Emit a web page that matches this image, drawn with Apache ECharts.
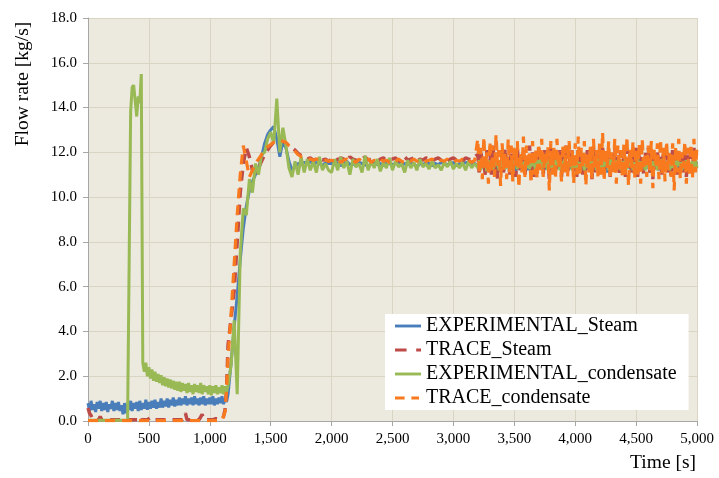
<!DOCTYPE html>
<html>
<head>
<meta charset="utf-8">
<script src="https://cdn.jsdelivr.net/npm/echarts@6/dist/echarts.min.js"></script>
<style>
html,body{margin:0;padding:0;background:#fff;}
#chart{width:719px;height:478px;}
</style>
</head>
<body>
<div id="chart"></div>
<script>
// sampling grid (s): 0–1137.5 every 12.5, 1150–3175 every 25, 3200–5000 every 12.5
const timeSegments = [[0, 1137.5, 12.5], [1150, 3175, 25], [3200, 5000, 12.5]];
const times = [];
timeSegments.forEach(([a, b, s]) => { for (let t = a; t <= b + 1e-9; t += s) times.push(t); });

const seriesNames = ['EXPERIMENTAL_Steam', 'TRACE_Steam', 'EXPERIMENTAL_condensate', 'TRACE_condensate'];

const expSteam = [
  0.8,0.45,0.9,0.5,0.75,0.4,0.85,0.55,0.9,0.45,0.8,0.5,0.85,0.4,0.75,0.55,0.9,0.45,0.8,0.5,
  0.85,0.45,0.7,0.3,0.8,0.35,0.75,0.5,0.9,0.45,0.8,0.55,0.85,0.45,0.9,0.5,0.8,0.55,0.95,0.5,
  0.85,0.55,0.9,0.6,0.95,0.55,0.85,0.6,1.0,0.6,0.9,0.65,1.0,0.6,0.95,0.7,1.05,0.65,0.95,0.7,
  1.05,0.7,1.0,0.75,1.1,0.7,1.0,0.75,1.05,0.7,1.1,0.75,1.0,0.7,1.05,0.75,1.1,0.7,1.0,0.75,
  1.05,0.75,1.1,0.7,1.0,0.75,1.05,0.8,1.1,0.75,1.0,0.85,
  1.2,2.6,4.2,5.6,7.2,8.6,9.6,10.3,10.7,11.0,11.3,11.8,12.4,12.8,
  13.0,13.15,12.6,11.8,12.5,12.2,11.6,11.2,11.35,11.5,11.45,11.55,11.5,11.6,11.45,11.55,11.5,11.4,11.55,11.5,
  11.5,11.45,11.55,11.4,11.5,11.6,11.45,11.5,11.4,11.55,11.5,11.45,11.35,11.5,11.55,11.45,11.5,11.4,11.55,11.5,
  11.45,11.5,11.6,11.4,11.5,11.45,11.55,11.5,11.35,11.5,11.45,11.55,11.5,11.4,11.5,11.45,11.55,11.5,11.45,11.5,
  11.55,11.4,11.5,11.45,11.55,11.5,11.45,11.5,
  11.4,11.15,11.6,11.3,11.5,11.1,11.55,11.3,11.45,11.2,11.6,11.25,11.5,11.15,11.55,11.35,11.4,11.2,11.6,11.3,
  11.5,11.2,11.55,11.3,11.4,11.15,11.6,11.25,11.5,11.2,11.45,11.35,11.6,11.2,11.5,11.1,11.55,11.3,11.45,11.2,
  11.6,11.3,11.5,11.2,11.4,11.25,11.55,11.15,11.5,11.3,11.6,11.2,11.45,11.3,11.5,11.15,11.55,11.3,11.4,11.2,
  11.6,11.25,11.5,11.15,11.45,11.3,11.55,11.2,11.5,11.25,11.4,11.2,11.5,11.3,11.6,11.15,11.45,11.3,11.55,11.2,
  11.5,11.25,11.6,11.3,11.45,11.1,11.55,11.3,11.4,11.2,11.6,11.25,11.5,11.15,11.55,11.3,11.45,11.2,11.6,11.3,
  11.4,11.2,11.55,11.25,11.5,11.15,11.6,11.3,11.45,11.2,11.5,11.3,11.55,11.1,11.5,11.25,11.6,11.3,11.4,11.2,
  11.55,11.3,11.5,11.15,11.45,11.25,11.6,11.2,11.5,11.3,11.4,11.15,11.55,11.25,11.5,11.2,11.6,11.3,11.45,11.2,
  11.5,11.25,11.55,11.3,11.45
];

const traceSteam = [
  0.58,0.35,0.25,0.06,0.06,0.06,0.06,0.06,0.2,0.06,0.06,0.06,0.06,0.06,0.06,0.06,0.06,0.06,0.06,0.06,
  0.06,0.06,0.06,0.06,0.06,0.06,0.06,0.06,0.06,0.06,0.06,0.06,0.06,0.06,0.2,0.06,0.06,0.06,0.06,0.06,
  0.06,0.15,0.06,0.06,0.06,0.06,0.06,0.06,0.06,0.06,0.06,0.06,0.06,0.06,0.06,0.06,0.06,0.06,0.06,0.06,
  0.06,0.06,0.06,0.06,0.35,0.06,0.06,0.06,0.06,0.06,0.06,0.06,0.06,0.06,0.06,0.3,0.06,0.06,0.06,0.06,
  0.06,0.06,0.06,0.06,0.1,0.06,0.06,0.06,0.08,0.2,0.5,1.4,
  3.4,4.6,5.8,8.0,10.2,11.5,12.2,11.8,11.2,11.1,11.3,11.6,11.9,12.1,
  12.3,12.45,12.5,12.55,12.5,12.4,12.3,12.2,12.1,11.95,11.85,11.75,11.7,11.75,11.65,11.7,11.75,11.65,11.7,11.6,
  11.7,11.8,11.65,11.75,11.7,11.6,11.8,11.7,11.65,11.75,11.7,11.8,11.65,11.7,11.75,11.6,11.7,11.75,11.65,11.7,
  11.7,11.75,11.6,11.7,11.8,11.65,11.7,11.75,11.6,11.7,11.65,11.75,11.7,11.6,11.7,11.75,11.65,11.7,11.6,11.7,
  11.75,11.65,11.7,11.6,11.75,11.7,11.65,11.8,
  11.9,11.1,12.2,11.3,11.8,10.9,12.1,11.4,12.0,11.0,12.3,11.2,11.8,10.8,12.1,11.3,11.9,11.1,12.2,11.4,
  11.8,11.0,12.1,11.3,12.0,10.9,12.2,11.2,11.9,11.4,12.1,11.0,11.8,11.3,12.3,11.1,12.0,10.9,11.9,11.2,
  12.2,11.3,11.8,11.0,12.1,11.4,11.9,10.8,12.2,11.2,12.0,11.1,11.8,11.3,12.1,10.9,12.0,11.2,12.3,11.0,
  11.9,11.4,12.1,11.1,11.8,10.9,12.2,11.3,12.0,11.0,11.9,11.2,12.1,11.4,11.8,10.8,12.2,11.1,12.0,11.3,
  11.9,11.0,12.2,11.2,11.8,11.4,12.1,10.9,12.0,11.3,12.3,11.1,11.9,11.0,12.1,11.2,11.8,10.9,12.2,11.3,
  12.0,11.1,11.9,11.4,12.2,10.9,12.1,11.2,11.8,11.0,12.0,11.3,12.2,11.1,11.9,10.8,12.1,11.2,12.0,11.4,
  11.8,11.0,12.2,11.3,12.0,11.1,11.9,10.9,12.1,11.2,12.2,11.0,11.8,11.3,12.0,11.1,12.1,10.9,11.9,11.2,
  12.0,11.1,12.2,11.3,11.9
];

const expCondensate = [
  0.03,0.03,0.03,0.03,0.03,0.03,0.03,0.03,0.03,0.03,0.03,0.03,0.03,0.03,0.03,0.03,0.03,0.03,0.03,0.03,
  0.03,0.03,0.03,0.03,0.03,0.03,0.03,0.03,13.8,14.9,15.0,14.3,13.6,14.5,14.2,15.5,2.6,2.2,2.6,2.0,
  2.4,1.9,2.3,1.8,2.2,1.75,2.1,1.7,2.05,1.6,1.95,1.55,1.9,1.5,1.85,1.45,1.8,1.4,1.75,1.35,
  1.75,1.3,1.7,1.35,1.65,1.25,1.7,1.3,1.6,1.2,1.65,1.3,1.6,1.25,1.7,1.2,1.6,1.3,1.55,1.2,
  1.6,1.15,1.55,1.25,1.6,1.2,1.5,1.25,1.6,1.2,1.55,1.3,
  1.6,2.5,4.5,1.2,7.5,9.5,9.2,10.8,10.2,11.5,11.0,11.9,12.0,12.6,
  12.9,12.4,14.4,12.0,13.1,12.3,11.3,10.9,11.6,11.0,11.8,11.1,11.7,11.2,11.6,11.1,11.8,11.2,11.5,11.2,
  11.1,11.7,11.2,11.8,11.3,11.6,11.0,11.7,11.35,11.5,11.1,11.85,11.2,11.6,11.3,11.7,11.15,11.55,11.3,11.75,
  11.2,11.6,11.35,11.5,11.1,11.65,11.3,11.55,11.2,11.7,11.35,11.5,11.25,11.6,11.3,11.45,11.2,11.55,11.35,11.6,
  11.25,11.5,11.3,11.55,11.2,11.6,11.3,11.5,
  11.3,11.65,11.2,11.7,11.35,11.55,11.15,11.65,11.3,11.6,11.25,11.75,11.4,11.55,11.2,11.65,11.35,11.6,11.25,11.7,
  11.3,11.55,11.2,11.65,11.4,11.6,11.25,11.7,11.35,11.55,11.2,11.6,11.3,11.75,11.25,11.6,11.4,11.55,11.2,11.65,
  11.3,11.7,11.25,11.55,11.35,11.6,11.2,11.7,11.3,11.6,11.25,11.65,11.4,11.55,11.2,11.6,11.3,11.7,11.25,11.55,
  11.35,11.65,11.2,11.6,11.3,11.7,11.25,11.55,11.4,11.6,11.2,11.65,11.3,11.75,11.25,11.6,11.35,11.55,11.2,11.7,
  11.3,11.6,11.25,11.65,11.4,11.55,11.2,11.7,11.3,11.6,11.25,11.65,11.35,11.55,11.2,11.6,11.3,11.7,11.25,11.6,
  11.4,11.65,11.2,11.55,11.3,11.7,11.25,11.6,11.35,11.55,11.2,11.65,11.3,11.7,11.25,11.6,11.4,11.55,11.2,11.65,
  11.3,11.7,11.25,11.6,11.35,11.55,11.2,11.65,11.3,11.6,11.25,11.7,11.4,11.55,11.2,11.6,11.3,11.65,11.25,11.55,
  11.35,11.6,11.2,11.65,11.3
];

const traceCondensate = [
  0.02,0.02,0.02,0.02,0.02,0.02,0.02,0.02,0.02,0.02,0.02,0.02,0.02,0.02,0.02,0.02,0.02,0.02,0.02,0.02,
  0.02,0.02,0.02,0.02,0.02,0.02,0.02,0.02,0.02,0.02,0.02,0.02,0.02,0.02,0.02,0.02,0.02,0.02,0.02,0.02,
  0.02,0.02,0.02,0.02,0.02,0.02,0.02,0.02,0.02,0.02,0.02,0.02,0.02,0.02,0.02,0.02,0.02,0.02,0.02,0.02,
  0.02,0.02,0.02,0.02,0.02,0.02,0.02,0.02,0.02,0.02,0.02,0.02,0.02,0.02,0.02,0.02,0.02,0.02,0.02,0.02,
  0.02,0.02,0.02,0.02,0.02,0.02,0.02,0.02,0.03,0.1,0.4,1.4,
  2.8,4.8,7.0,9.2,11.0,12.3,11.6,10.9,11.2,11.5,11.7,11.9,12.1,12.25,
  12.35,12.45,12.5,12.55,12.5,12.45,12.3,12.2,12.05,11.9,11.8,11.75,11.7,11.7,11.65,11.7,11.7,11.6,11.65,11.6,
  11.65,11.6,11.7,11.55,11.65,11.7,11.6,11.65,11.55,11.7,11.6,11.65,11.7,11.55,11.65,11.6,11.7,11.6,11.65,11.55,
  11.65,11.6,11.7,11.6,11.55,11.65,11.6,11.7,11.6,11.65,11.55,11.6,11.65,11.7,11.6,11.55,11.65,11.6,11.7,11.6,
  11.55,11.65,11.6,11.7,11.6,11.65,11.55,11.65,
  12.6,11.0,12.2,10.8,12.7,11.3,12.0,10.6,12.5,11.1,12.3,10.9,12.8,11.4,12.1,10.5,12.4,11.2,12.0,10.8,
  12.6,11.0,12.3,10.7,12.2,11.4,12.5,10.4,12.0,11.1,12.7,10.9,12.3,11.3,12.1,10.6,12.5,11.0,12.2,10.8,
  12.4,11.2,12.6,10.9,12.0,11.4,12.3,10.3,12.5,11.0,12.2,10.8,12.6,11.3,12.0,10.7,12.4,11.1,12.3,10.9,
  12.5,11.2,12.1,10.6,12.4,11.0,12.7,10.9,12.2,11.3,12.5,10.5,12.0,11.1,12.3,10.8,12.6,11.2,12.1,10.9,
  12.4,11.0,12.9,10.7,12.2,11.3,12.5,10.8,12.0,11.1,12.6,10.6,12.3,11.2,12.1,10.9,12.4,11.0,12.7,10.5,
  12.2,11.3,12.5,10.8,12.1,11.0,12.4,10.6,12.6,11.2,12.0,10.9,12.3,11.1,12.5,10.4,12.2,11.3,12.4,10.8,
  12.6,11.0,12.2,10.7,12.5,11.2,12.1,10.9,12.4,10.3,12.3,11.1,12.6,10.8,12.0,11.3,12.5,10.6,12.2,11.0,
  12.4,10.8,12.6,11.1,12.3
];

const xTicks = { min: 0, max: 5000, interval: 500 };
const yTicks = { min: 0, max: 18, interval: 2 };

const serif = "'Liberation Serif', 'Times New Roman', serif";
const pair = (vals) => vals.map((v, i) => [times[i], v]);

const chart = echarts.init(document.getElementById('chart'), null, { renderer: 'canvas' });

const styles = [
  { color: '#4A7EBB', width: 3, type: 'solid', icon: 'path://M0,0H27V3H0Z' },
  { color: '#BE4B48', width: 3.5, type: [10, 7], icon: 'path://M0,0H12V3H0Z M22,0H27V3H22Z' },
  { color: '#98B954', width: 3, type: 'solid', icon: 'path://M0,0H27V3H0Z' },
  { color: '#F97A1E', width: 3.2, type: [10, 7], icon: 'path://M0,0H10V3H0Z M17,0H25V3H17Z M27,0H27.01V3H27Z' }
];
const dataSets = [expSteam, traceSteam, expCondensate, traceCondensate];

chart.setOption({
  animation: false,
  backgroundColor: '#ffffff',
  grid: {
    left: 88, right: 22, top: 18, bottom: 57,
    show: true, backgroundColor: '#ECE9DF', borderWidth: 0
  },
  xAxis: {
    type: 'value',
    min: xTicks.min, max: xTicks.max, interval: xTicks.interval,
    axisLine: { show: true, onZero: false, lineStyle: { color: '#A6A6A6', width: 1 } },
    axisTick: { show: true, length: 5, lineStyle: { color: '#A6A6A6' } },
    splitLine: { show: true, lineStyle: { color: '#DAD5C3', width: 1 } },
    axisLabel: {
      margin: 11, color: '#000', fontFamily: serif, fontSize: 15,
      formatter: (v) => v.toLocaleString('en-US')
    }
  },
  yAxis: {
    type: 'value',
    min: yTicks.min, max: yTicks.max, interval: yTicks.interval,
    axisLine: { show: true, lineStyle: { color: '#A6A6A6', width: 1 } },
    axisTick: { show: true, length: 5, lineStyle: { color: '#A6A6A6' } },
    splitLine: { show: true, lineStyle: { color: '#DAD5C3', width: 1 } },
    axisLabel: {
      margin: 11, color: '#000', fontFamily: serif, fontSize: 15,
      formatter: (v) => v.toFixed(1)
    }
  },
  legend: {
    left: 385, top: 314,
    orient: 'vertical',
    backgroundColor: '#ffffff',
    padding: [2, 12, 2, 10],
    itemWidth: 26, itemHeight: 3, itemGap: 4,
    textStyle: { fontFamily: serif, fontSize: 20, color: '#000', lineHeight: 20 },
    data: seriesNames.map((n, k) => ({ name: n, icon: styles[k].icon }))
  },
  graphic: [
    {
      type: 'text', x: 23, y: 84, rotation: Math.PI / 2,
      style: { text: 'Flow rate [kg/s]', font: "19.5px " + serif, fill: '#000', align: 'center', verticalAlign: 'middle' }
    },
    {
      type: 'text', x: 696, y: 463,
      style: { text: 'Time [s]', font: "19.5px " + serif, fill: '#000', align: 'right', verticalAlign: 'middle' }
    }
  ],
  series: seriesNames.map((name, k) => ({
    name: name,
    type: 'line',
    data: pair(dataSets[k]),
    showSymbol: false,
    symbol: 'none',
    sampling: false,
    color: styles[k].color,
    itemStyle: { color: styles[k].color },
    lineStyle: { color: styles[k].color, width: styles[k].width, type: styles[k].type },
    z: 2 + k
  }))
});
</script>
</body>
</html>
